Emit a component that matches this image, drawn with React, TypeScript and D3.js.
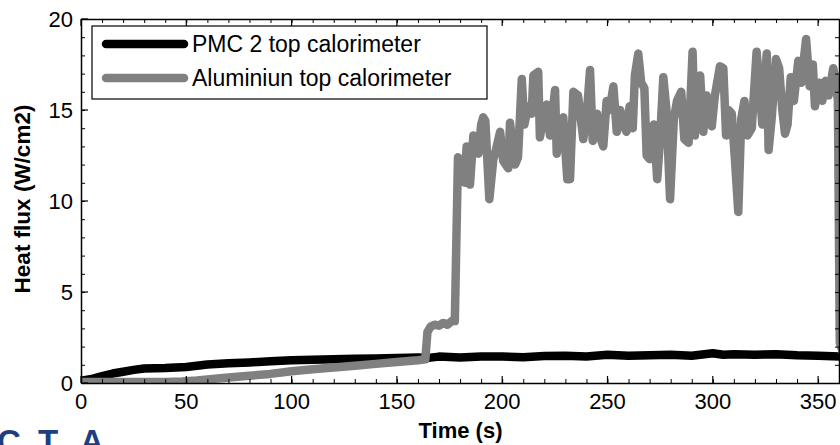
import * as d3 from "d3";
import { useEffect, useRef } from "react";

// PMC 2 top calorimeter (black)
const pmcTime = [0, 5, 10, 15, 20, 25, 30, 40, 50, 60, 70, 80, 90, 100, 110, 120, 130, 140, 150, 160, 165, 170, 180, 190, 200, 210, 220, 230, 240, 250, 260, 270, 280, 290, 300, 305, 310, 320, 330, 340, 350, 361];
const pmcFlux = [0.12, 0.22, 0.38, 0.52, 0.62, 0.72, 0.8, 0.82, 0.88, 1.02, 1.08, 1.13, 1.2, 1.25, 1.28, 1.31, 1.33, 1.35, 1.37, 1.4, 1.38, 1.45, 1.4, 1.46, 1.45, 1.42, 1.48, 1.5, 1.46, 1.55, 1.5, 1.53, 1.55, 1.5, 1.63, 1.55, 1.58, 1.55, 1.58, 1.52, 1.5, 1.46];

// Aluminiun top calorimeter (grey)
const aluTime = [0, 10, 20, 30, 40, 48, 55, 60, 70, 80, 90, 100, 110, 120, 130, 140, 150, 160, 163.5, 164.5, 166, 168, 170, 172, 174, 176, 177.5, 179,
  180.5, 182.3, 183.1, 184.7, 186.3, 187.5, 188.7, 190, 191, 192, 193.9, 195.8, 197, 199, 200.5, 202.9, 203.7, 205, 206.1, 207.5, 209.3, 210.5,
  212.4, 214, 214.8, 217.1, 217.9, 219.5, 221.1, 222.7, 225.1, 225.9, 227.5, 229, 230.9, 232.2, 233.8, 236, 238.5, 240, 241.7, 243, 245, 246.5,
  248, 249.6, 251, 252.8, 254.4, 256, 257.5, 259, 260.5, 262, 263, 264.6, 266, 267.5, 268.6, 270, 272, 273.6, 275, 276.5, 278, 279.7, 281.5,
  283, 285, 286.5, 288.5, 290.4, 291.5, 292.8, 294, 295.5, 297, 299.5, 301, 303.4, 305, 306.3, 307.5, 309, 310.5, 312.1, 313.5, 315, 316.5,
  318.5, 320.8, 322, 323.5, 325.6, 326.5, 328, 330, 331.5, 333, 334.3, 335.5, 337, 338.5, 340.6, 342, 344.3, 346, 347.5, 348.5, 350.5, 352,
  353.5, 355, 357.2, 358.5, 359.4, 360.3, 362];
const aluFlux = [0.05, 0.05, 0.05, 0.05, 0.05, 0.08, 0.14, 0.2, 0.3, 0.4, 0.5, 0.65, 0.75, 0.85, 0.95, 1.05, 1.15, 1.25, 1.3, 2.8, 3.1, 3.2, 3.15, 3.3, 3.2, 3.4, 3.4, 12.4,
  12.2, 11.0, 13.0, 10.9, 13.6, 13.2, 12.6, 14.2, 14.6, 14.4, 10.1, 12.3, 12.8, 13.8, 12.2, 11.8, 14.3, 13.0, 12.0, 12.4, 16.7, 14.2,
  15.2, 14.8, 16.9, 17.1, 13.5, 14.5, 15.3, 13.6, 16.1, 12.6, 13.8, 14.6, 11.2, 11.2, 16.0, 15.8, 13.4, 14.5, 17.2, 13.3, 14.8, 13.5,
  13.0, 15.5, 15.0, 16.3, 13.8, 15.0, 14.2, 13.8, 15.2, 14.0, 16.9, 18.1, 16.5, 16.2, 12.5, 12.3, 14.2, 11.2, 13.5, 16.8, 15.0, 10.1, 14.5,
  15.5, 16.0, 13.4, 13.2, 18.2, 13.6, 16.5, 16.9, 13.8, 15.8, 14.1, 15.8, 17.4, 17.3, 13.6, 15.0, 14.8, 12.3, 9.4, 14.5, 15.5, 13.6,
  14.0, 18.2, 16.6, 14.2, 18.1, 12.8, 14.6, 17.8, 17.3, 15.0, 13.7, 14.2, 16.8, 15.5, 17.7, 16.5, 18.9, 16.3, 17.5, 15.2, 16.5, 15.5,
  16.6, 15.8, 17.3, 16.5, 15.5, 2.2, 1.6];

const xTicks = [0, 50, 100, 150, 200, 250, 300, 350];
const yTicks = [0, 5, 10, 15, 20];
const legendLabels = ["PMC 2 top calorimeter", "Aluminiun top calorimeter"];
const seriesColors = ["#000000", "#808080"];

const Chart = () => {
  const svgRef = useRef<SVGSVGElement>(null);

  const renderSVG = () => {
    const dims = {
      width: 840,
      height: 445,
      left: 81,
      right: 840,
      top: 19,
      bottom: 383,
    };
    const font = "'Liberation Sans', Arial, sans-serif";

    const xScale = d3.scaleLinear([0, 360.4], [dims.left, dims.right]);
    const yScale = d3.scaleLinear([0, 20], [dims.bottom, dims.top]);

    svgRef.current!.innerHTML = "";
    const svg = d3
      .select(svgRef.current)
      .attr("width", dims.width)
      .attr("height", dims.height)
      .attr("viewBox", [0, 0, dims.width, dims.height].join(" "));

    svg.append("rect").attr("width", dims.width).attr("height", dims.height).attr("fill", "white");

    svg
      .append("clipPath")
      .attr("id", "plot-clip")
      .append("rect")
      .attr("x", dims.left)
      .attr("y", dims.top)
      .attr("width", dims.right - dims.left)
      .attr("height", dims.bottom - dims.top);

    // data lines
    const line = d3
      .line<[number, number]>()
      .x((d) => xScale(d[0]))
      .y((d) => yScale(d[1]));

    const series = [
      d3.zip(pmcTime, pmcFlux) as [number, number][],
      d3.zip(aluTime, aluFlux) as [number, number][],
    ];

    svg
      .append("g")
      .attr("clip-path", "url(#plot-clip)")
      .selectAll("path")
      .data(series)
      .enter()
      .append("path")
      .attr("d", (d) => line(d))
      .attr("fill", "none")
      .attr("stroke", (d, i) => seriesColors[i])
      .attr("stroke-width", 8.5)
      .attr("stroke-linejoin", "round")
      .attr("stroke-linecap", "round");

    // axes with inward ticks on all four sides
    const minorX = d3.range(0, 361, 10);
    const minorY = d3.range(0, 21, 1);
    const noLabel = () => "";

    const styleAxis = (g) => {
      g.select("path.domain").attr("stroke", "#000").attr("stroke-width", 1.5);
      g.selectAll(".tick line").attr("stroke", "#000").attr("stroke-width", 1);
    };

    svg.append("g").attr("transform", `translate(0,${dims.bottom})`)
      .call(d3.axisBottom(xScale).tickValues(minorX).tickSizeInner(-4).tickSizeOuter(0).tickFormat(noLabel)).call(styleAxis);
    svg.append("g").attr("transform", `translate(0,${dims.top})`)
      .call(d3.axisTop(xScale).tickValues(minorX).tickSizeInner(-4).tickSizeOuter(0).tickFormat(noLabel)).call(styleAxis);
    svg.append("g").attr("transform", `translate(${dims.left},0)`)
      .call(d3.axisLeft(yScale).tickValues(minorY).tickSizeInner(-4).tickSizeOuter(0).tickFormat(noLabel)).call(styleAxis);
    svg.append("g").attr("transform", `translate(${dims.right - 1},0)`)
      .call(d3.axisRight(yScale).tickValues(minorY).tickSizeInner(-4).tickSizeOuter(0).tickFormat(noLabel)).call(styleAxis);

    // major ticks (longer)
    const major = svg.append("g").attr("stroke", "#000").attr("stroke-width", 1.2);
    major.selectAll(".xb").data(xTicks).enter().append("line")
      .attr("x1", (d) => xScale(d)).attr("x2", (d) => xScale(d))
      .attr("y1", dims.bottom).attr("y2", dims.bottom - 7);
    major.selectAll(".xt").data(xTicks).enter().append("line")
      .attr("x1", (d) => xScale(d)).attr("x2", (d) => xScale(d))
      .attr("y1", dims.top).attr("y2", dims.top + 7);
    major.selectAll(".yl").data(yTicks).enter().append("line")
      .attr("x1", dims.left).attr("x2", dims.left + 7)
      .attr("y1", (d) => yScale(d)).attr("y2", (d) => yScale(d));

    // tick labels
    svg.append("g").selectAll("text").data(xTicks).enter().append("text")
      .attr("x", (d) => xScale(d))
      .attr("y", dims.bottom + 26)
      .attr("text-anchor", "middle")
      .attr("font-family", font)
      .attr("font-size", 22)
      .text((d) => d);

    svg.append("g").selectAll("text").data(yTicks).enter().append("text")
      .attr("x", dims.left - 8)
      .attr("y", (d) => yScale(d))
      .attr("dy", "0.36em")
      .attr("text-anchor", "end")
      .attr("font-family", font)
      .attr("font-size", 22)
      .text((d) => d);

    // axis titles
    svg.append("text")
      .attr("x", (dims.left + dims.right) / 2)
      .attr("y", 438)
      .attr("text-anchor", "middle")
      .attr("font-family", font)
      .attr("font-weight", "bold")
      .attr("font-size", 22)
      .text("Time (s)");

    svg.append("text")
      .attr("transform", `translate(30,${(dims.top + dims.bottom) / 2 - 2}) rotate(-90)`)
      .attr("text-anchor", "middle")
      .attr("font-family", font)
      .attr("font-weight", "bold")
      .attr("font-size", 22.5)
      .text("Heat flux (W/cm2)");

    // legend
    const legend = svg.append("g");
    legend.append("rect")
      .attr("x", 92).attr("y", 26).attr("width", 395).attr("height", 73)
      .attr("fill", "white").attr("stroke", "#000").attr("stroke-width", 1.2);
    legend.selectAll("g").data(legendLabels).enter().append("g")
      .call((g) => {
        g.append("line")
          .attr("x1", 106).attr("x2", 184)
          .attr("y1", (d, i) => 44 + i * 34).attr("y2", (d, i) => 44 + i * 34)
          .attr("stroke", (d, i) => seriesColors[i])
          .attr("stroke-width", 8.5)
          .attr("stroke-linecap", "round");
        g.append("text")
          .attr("x", 192)
          .attr("y", (d, i) => 44 + i * 34)
          .attr("dy", "0.36em")
          .attr("font-family", font)
          .attr("font-size", 23)
          .text((d) => d);
      });

    // logo fragment bottom-left (cut off by the image edge, as in the source)
    const logo = svg.append("g").attr("fill", "#1d3f7f").attr("font-family", font)
      .attr("font-size", 33).attr("font-weight", "bold").attr("text-anchor", "middle");
    [["C", 9], ["T", 48], ["A", 92]].forEach(([ch, x]) => {
      logo.append("text").attr("x", x).attr("y", 453).text(ch);
    });
  };

  useEffect(() => {
    renderSVG();
  });

  return <svg ref={svgRef} style={{ position: "absolute", left: 0, top: 0, display: "block" }} />;
};

export default function App() {
  return <Chart />;
}
